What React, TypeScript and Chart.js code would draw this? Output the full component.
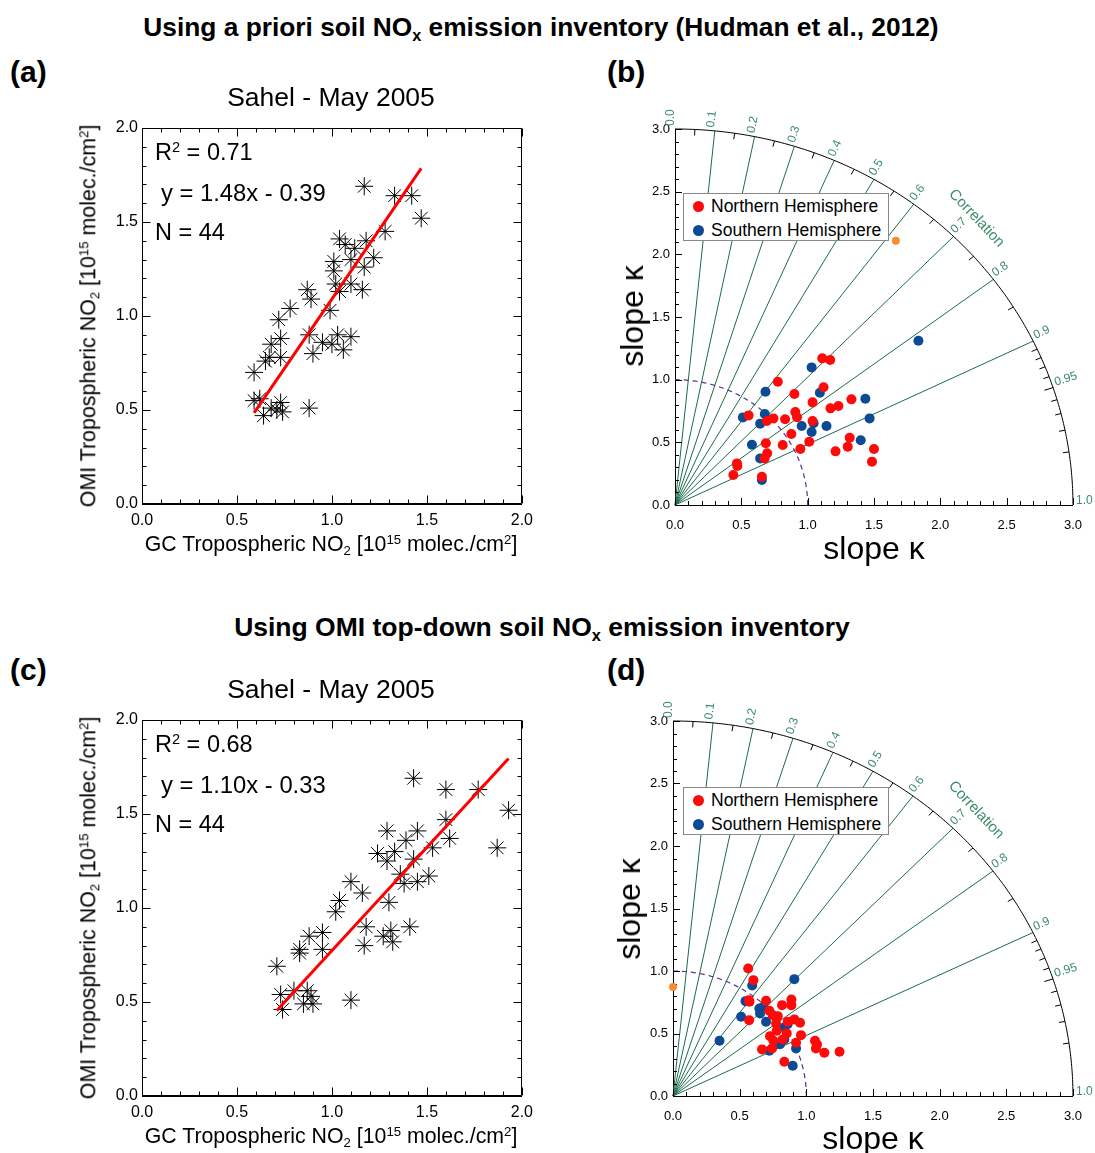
import React, { useEffect, useRef } from "react";
import { Chart, registerables } from "chart.js";
Chart.register(...registerables);

const FONT = "'Liberation Sans', Arial, Helvetica, sans-serif";

// ---------- Panel (a): a priori inventory scatter ----------
const gcA = [1.17, 1.33, 1.42, 1.47, 1.28, 1.04, 1.07, 1.12, 1.18, 1.22, 1.10, 1.01, 1.17, 1.01, 1.02, 1.10, 1.16, 1.04, 0.87, 0.89, 0.78, 0.99, 0.72, 0.73, 0.68, 0.88, 0.95, 1.00, 1.03, 1.06, 1.10, 0.90, 0.67, 0.65, 0.73, 0.59, 0.59, 0.64, 0.73, 0.71, 0.74, 0.88, 0.68, 0.62];
const omiA = [1.69, 1.64, 1.64, 1.52, 1.45, 1.41, 1.38, 1.36, 1.40, 1.31, 1.30, 1.29, 1.26, 1.24, 1.17, 1.17, 1.14, 1.13, 1.14, 1.09, 1.04, 1.03, 0.98, 0.88, 0.85, 0.90, 0.86, 0.85, 0.90, 0.82, 0.89, 0.80, 0.78, 0.76, 0.78, 0.70, 0.55, 0.47, 0.54, 0.50, 0.49, 0.51, 0.51, 0.56];
const fitAX = [0.59, 1.47];
const fitAY = [0.485, 1.785];
const statsA = { r2: "0.71", eq: "y = 1.48x - 0.39", n: "N = 44" };

// ---------- Panel (c): OMI top-down inventory scatter ----------
const gcC = [1.43, 1.60, 1.77, 1.93, 1.87, 1.60, 1.62, 1.53, 1.29, 1.39, 1.45, 1.24, 1.33, 1.29, 1.43, 1.38, 1.45, 1.51, 1.36, 1.30, 1.10, 1.16, 1.04, 1.02, 0.95, 0.88, 0.95, 0.83, 0.83, 1.18, 1.17, 1.27, 1.31, 1.32, 1.41, 0.71, 0.73, 0.80, 0.74, 0.87, 0.85, 0.90, 1.10, 0.89];
const omiC = [1.69, 1.63, 1.63, 1.52, 1.32, 1.47, 1.37, 1.32, 1.41, 1.36, 1.41, 1.29, 1.30, 1.25, 1.26, 1.13, 1.14, 1.17, 1.18, 1.03, 1.14, 1.08, 1.04, 0.98, 0.87, 0.85, 0.78, 0.78, 0.76, 0.90, 0.80, 0.85, 0.88, 0.82, 0.90, 0.69, 0.54, 0.56, 0.46, 0.56, 0.49, 0.49, 0.51, 0.53];
const fitCX = [0.71, 1.93];
const fitCY = [0.455, 1.795];
const statsC = { r2: "0.68", eq: "y = 1.10x - 0.33", n: "N = 44" };

// ---------- Panel (b): Taylor diagram, a priori ----------
const nhB: number[][] = [
  [1.11, 1.17], [1.17, 1.157], [0.775, 0.984], [1.12, 0.939], [0.90, 0.886], [1.037, 0.819], [1.33, 0.843], [1.232, 0.79],
  [1.172, 0.771], [0.907, 0.742], [0.92, 0.70], [0.555, 0.715], [0.692, 0.67], [0.742, 0.691], [0.83, 0.684], [1.037, 0.67],
  [0.877, 0.566], [0.685, 0.492], [0.812, 0.479], [1.012, 0.505], [0.945, 0.447], [0.695, 0.412], [0.675, 0.372], [1.317, 0.537],
  [1.302, 0.465], [1.21, 0.428], [1.50, 0.447], [1.485, 0.346], [0.467, 0.332], [0.47, 0.311], [0.44, 0.239], [0.655, 0.226],
];
const shB: number[][] = [
  [1.835, 1.311], [1.03, 1.098], [0.682, 0.904], [1.092, 0.896], [1.435, 0.848], [1.467, 0.691], [0.512, 0.699], [0.677, 0.726],
  [0.642, 0.649], [1.045, 0.652], [0.955, 0.63], [1.142, 0.63], [1.03, 0.582], [1.40, 0.516], [0.58, 0.481], [0.642, 0.372], [0.655, 0.199],
];
const refB: number[][] = [[1.665, 2.109]];

// ---------- Panel (d): Taylor diagram, top-down ----------
const nhD: number[][] = [
  [0.564, 1.02], [0.603, 0.927], [0.569, 0.767], [0.574, 0.754], [0.698, 0.762], [0.818, 0.727], [0.888, 0.772], [0.888, 0.727],
  [0.723, 0.682], [0.748, 0.647], [0.786, 0.639], [0.571, 0.607], [0.773, 0.581], [0.86, 0.594], [0.91, 0.613], [0.953, 0.586],
  [0.778, 0.522], [0.853, 0.501], [0.96, 0.487], [0.728, 0.479], [0.753, 0.442], [0.823, 0.453], [0.923, 0.426], [0.668, 0.373],
  [0.743, 0.381], [1.065, 0.442], [1.08, 0.413], [1.072, 0.381], [1.135, 0.346], [1.249, 0.354], [0.835, 0.274],
];
const shD: number[][] = [
  [0.91, 0.935], [0.594, 0.884], [0.544, 0.759], [0.648, 0.70], [0.678, 0.714], [0.653, 0.66], [0.511, 0.634], [0.698, 0.594],
  [0.835, 0.549], [0.86, 0.575], [0.835, 0.453], [0.803, 0.415], [0.723, 0.362], [0.923, 0.381], [0.349, 0.442], [0.898, 0.242],
];
const refD: number[][] = [[0.0, 0.873]];

// ---------- Taylor diagram grid definitions ----------
const taylorMax = 3;
const refRadius = 1;
const corrLines = [0.1, 0.2, 0.3, 0.4, 0.5, 0.6, 0.7, 0.8, 0.9];
const corrLabelVals = [0.0, 0.1, 0.2, 0.3, 0.4, 0.5, 0.6, 0.7, 0.8, 0.9, 0.95, 1.0];
const corrLabels = ["0.0", "0.1", "0.2", "0.3", "0.4", "0.5", "0.6", "0.7", "0.8", "0.9", "0.95", "1.0"];
const corrMinorTicks = [0.05, 0.15, 0.25, 0.35, 0.45, 0.55, 0.65, 0.75, 0.85, 0.91, 0.92, 0.93, 0.94, 0.96, 0.97, 0.98, 0.99];
const corrMajorTicks = [0.95];
const legendLabels = ["Northern Hemisphere", "Southern Hemisphere"];

const RED = "#ff0a0a";
const BLUE = "#0b4a94";
const ORANGE = "#f78c2e";
const GREEN_LINE = "#1c6b4a";
const GREEN_TEXT = "#3b8c68";
const PURPLE = "#5b2e96";

const fmt1 = (v: any) => Number(v).toFixed(1);

const boxTicksPlugin = {
  id: "boxTicks",
  beforeDatasetsDraw(chart: any) {
    const { ctx, chartArea: a, scales } = chart;
    const x = scales.x, y = scales.y;
    const L = Math.round(a.left) + 0.5, R = Math.round(a.right) - 0.5, T = Math.round(a.top) + 0.5, B = Math.round(a.bottom) - 0.5;
    ctx.save();
    ctx.strokeStyle = "#000";
    ctx.lineWidth = 1;
    ctx.beginPath();
    ctx.rect(L, T, R - L, B - T);
    ctx.stroke();
    ctx.beginPath();
    for (let i = 0; i <= 20; i++) {
      const v = i / 10;
      const len = i % 5 === 0 ? 8 : 4;
      const X = Math.round(x.getPixelForValue(v)) + 0.5;
      ctx.moveTo(X, B); ctx.lineTo(X, B - len);
      ctx.moveTo(X, T); ctx.lineTo(X, T + len);
      const Y = Math.round(y.getPixelForValue(v)) + 0.5;
      ctx.moveTo(L, Y); ctx.lineTo(L + len, Y);
      ctx.moveTo(R, Y); ctx.lineTo(R - len, Y);
    }
    ctx.stroke();
    ctx.restore();
  },
};

const taylorPlugin = {
  id: "taylorGrid",
  beforeDatasetsDraw(chart: any) {
    const { ctx, scales } = chart;
    const xs = scales.x, ys = scales.y;
    const px = (v: number) => xs.getPixelForValue(v);
    const py = (v: number) => ys.getPixelForValue(v);
    const ox = px(0), oy = py(0);
    const arcPt = (r: number, rad: number) => [px(rad * r), py(rad * Math.sqrt(Math.max(0, 1 - r * r)))];
    ctx.save();
    // radial correlation lines
    ctx.strokeStyle = GREEN_LINE;
    ctx.lineWidth = 1;
    for (const r of corrLines) {
      const [X, Y] = arcPt(r, taylorMax);
      ctx.beginPath(); ctx.moveTo(ox, oy); ctx.lineTo(X, Y); ctx.stroke();
    }
    // outer arc
    ctx.strokeStyle = "#000";
    ctx.beginPath();
    for (let i = 0; i <= 180; i++) {
      const t = (i / 180) * Math.PI / 2;
      const X = px(taylorMax * Math.cos(t)), Y = py(taylorMax * Math.sin(t));
      if (i === 0) ctx.moveTo(X, Y); else ctx.lineTo(X, Y);
    }
    ctx.stroke();
    // reference dashed arc
    ctx.strokeStyle = PURPLE;
    ctx.lineWidth = 1.2;
    ctx.setLineDash([5, 4]);
    ctx.beginPath();
    for (let i = 0; i <= 90; i++) {
      const t = (i / 90) * Math.PI / 2;
      const X = px(refRadius * Math.cos(t)), Y = py(refRadius * Math.sin(t));
      if (i === 0) ctx.moveTo(X, Y); else ctx.lineTo(X, Y);
    }
    ctx.stroke();
    ctx.setLineDash([]);
    ctx.lineWidth = 1;
    // arc ticks (inward)
    ctx.strokeStyle = "#000";
    const tick = (r: number, len: number) => {
      const [X, Y] = arcPt(r, taylorMax);
      const dx = ox - X, dy = oy - Y, d = Math.hypot(dx, dy);
      ctx.beginPath(); ctx.moveTo(X, Y); ctx.lineTo(X + (dx / d) * len, Y + (dy / d) * len); ctx.stroke();
    };
    corrMinorTicks.forEach((r) => tick(r, 6));
    corrMajorTicks.forEach((r) => tick(r, 9));
    // axis ticks (inward)
    ctx.beginPath();
    for (let i = 0; i <= 30; i++) {
      const v = i / 10;
      const len = i % 5 === 0 ? 7 : 4;
      const X = Math.round(px(v)) + 0.5;
      ctx.moveTo(X, oy); ctx.lineTo(X, oy - len);
      const Y = Math.round(py(v)) + 0.5;
      ctx.moveTo(ox, Y); ctx.lineTo(ox + len, Y);
    }
    ctx.stroke();
    // correlation labels
    ctx.fillStyle = GREEN_TEXT;
    ctx.font = `12px ${FONT}`;
    ctx.textAlign = "left";
    ctx.textBaseline = "alphabetic";
    corrLabelVals.forEach((r, i) => {
      const [X, Y] = arcPt(r, taylorMax);
      const phi = Math.atan2(oy - Y, X - ox);
      ctx.save();
      ctx.translate(X + Math.cos(phi) * 3, Y - Math.sin(phi) * 3);
      ctx.rotate(-phi);
      ctx.fillText(corrLabels[i], 0, -1);
      ctx.restore();
    });
    // "Correlation" label
    {
      const [X, Y] = arcPt(0.705, taylorMax);
      const phi = Math.atan2(oy - Y, X - ox);
      ctx.save();
      ctx.translate(X + Math.cos(phi) * 29, Y - Math.sin(phi) * 29);
      ctx.rotate(Math.PI / 2 - phi);
      ctx.font = `15px ${FONT}`;
      ctx.textAlign = "center";
      ctx.textBaseline = "middle";
      ctx.fillText("Correlation", 0, 0);
      ctx.restore();
    }
    ctx.restore();
  },
};

function axisCfg(min: number, max: number, isX: boolean, size: number, pad: number, fontSize: number) {
  return {
    type: "linear",
    min,
    max,
    afterFit: (s: any) => {
      if (isX) s.height = size; else s.width = size;
    },
    grid: { display: false, drawTicks: false },
    border: { display: true, color: "#000", width: 1 },
    ticks: { stepSize: 0.5, padding: pad, color: "#000", font: { size: fontSize, family: FONT }, callback: fmt1, autoSkip: false, maxRotation: 0 },
  };
}

function makeScatter(xs: number[], ys: number[], fx: number[], fy: number[], padding: any) {
  return {
    type: "scatter",
    data: {
      datasets: [
        {
          data: fx.map((x, i) => ({ x, y: fy[i] })),
          showLine: true,
          borderColor: "#ff0000",
          borderWidth: 3,
          pointRadius: 0,
          order: 0,
        },
        {
          data: xs.map((x, i) => ({ x, y: ys[i] })),
          pointStyle: "star",
          pointRadius: 9,
          borderColor: "#000",
          backgroundColor: "rgba(0,0,0,0)",
          borderWidth: 1,
          clip: false,
          order: 1,
        },
      ],
    },
    options: {
      animation: false,
      responsive: false,
      events: [],
      layout: { padding },
      plugins: { legend: { display: false }, tooltip: { enabled: false } },
      scales: { x: axisCfg(0, 2, true, 30, 7, 16), y: axisCfg(0, 2, false, 44, 4, 16) },
    },
    plugins: [boxTicksPlugin],
  };
}

function makeTaylor(nh: number[][], sh: number[][], ref: number[][], padding: any) {
  const pts = (a: number[][]) => a.map(([x, y]) => ({ x, y }));
  return {
    type: "scatter",
    data: {
      datasets: [
        { label: legendLabels[0], data: pts(nh), pointRadius: 5, backgroundColor: RED, borderColor: RED, borderWidth: 0, clip: false, order: 0 },
        { label: legendLabels[1], data: pts(sh), pointRadius: 5, backgroundColor: BLUE, borderColor: BLUE, borderWidth: 0, clip: false, order: 1 },
        { label: "reference", data: pts(ref), pointRadius: 4, backgroundColor: ORANGE, borderColor: ORANGE, borderWidth: 0, clip: false, order: 2 },
      ],
    },
    options: {
      animation: false,
      responsive: false,
      events: [],
      layout: { padding },
      plugins: { legend: { display: false }, tooltip: { enabled: false } },
      scales: { x: axisCfg(0, taylorMax, true, 30, 13, 13), y: axisCfg(0, taylorMax, false, 40, 5, 13) },
    },
    plugins: [taylorPlugin],
  };
}

function ChartBox({ left, top, width, height, make }: any) {
  const ref = useRef<HTMLCanvasElement | null>(null);
  useEffect(() => {
    const chart = new Chart(ref.current as HTMLCanvasElement, make());
    return () => chart.destroy();
  }, []);
  return <canvas ref={ref} width={width} height={height} style={{ position: "absolute", left, top, width, height }} />;
}

const Sub = ({ children }: any) => <span style={{ fontSize: "0.62em", position: "relative", top: "0.3em" }}>{children}</span>;
const Sup = ({ children }: any) => <span style={{ fontSize: "0.62em", position: "relative", top: "-0.55em" }}>{children}</span>;

function Txt({ x, y, size, bold, rotate, align = "center", color = "#000", children }: any) {
  const tx = align === "center" ? "-50%" : align === "left" ? "0%" : "-100%";
  return (
    <div
      style={{
        position: "absolute",
        left: x,
        top: y,
        transform: `translate(${tx},-50%)${rotate ? ` rotate(${rotate}deg)` : ""}`,
        whiteSpace: "nowrap",
        fontFamily: FONT,
        fontSize: size,
        fontWeight: bold ? "bold" : "normal",
        lineHeight: 1,
        color,
      }}
    >
      {children}
    </div>
  );
}

function Legend({ left, top }: any) {
  const colors = [RED, BLUE];
  return (
    <div style={{ position: "absolute", left, top, width: 206, height: 48, border: "1px solid #888", boxSizing: "border-box", background: "#fff", fontFamily: FONT, fontSize: 17.5, color: "#000" }}>
      {legendLabels.map((lab, i) => (
        <div key={lab} style={{ position: "absolute", left: 9, top: 2 + i * 24, height: 20, display: "flex", alignItems: "center", whiteSpace: "nowrap" }}>
          <span style={{ display: "inline-block", width: 11, height: 11, borderRadius: "50%", background: colors[i], marginRight: 7 }} />
          {lab}
        </div>
      ))}
    </div>
  );
}

const NO2Y = () => (
  <>OMI Tropospheric NO<Sub>2</Sub> [10<Sup>15</Sup> molec./cm<Sup>2</Sup>]</>
);
const NO2X = () => (
  <>GC Tropospheric NO<Sub>2</Sub> [10<Sup>15</Sup> molec./cm<Sup>2</Sup>]</>
);

function ScatterPanel({ dy, xs, ys, fx, fy, stats, h, padBottom }: any) {
  return (
    <>
      <ChartBox left={60} top={110 + dy} width={480} height={h} make={() => makeScatter(xs, ys, fx, fy, { left: 38, right: 18, top: 18, bottom: padBottom })} />
      <Txt x={331} y={97 + dy} size={26.5}>Sahel - May 2005</Txt>
      <Txt x={89} y={316 + dy} size={21.4} rotate={-90}><NO2Y /></Txt>
      <Txt x={331} y={545 + dy} size={21.3}><NO2X /></Txt>
      <Txt x={155} y={153 + dy} size={23.5} align="left">R<Sup>2</Sup> = {stats.r2}</Txt>
      <Txt x={161} y={193 + dy} size={23.8} align="left">{stats.eq}</Txt>
      <Txt x={155} y={233 + dy} size={23.5} align="left">{stats.n}</Txt>
    </>
  );
}

export default function App() {
  return (
    <div style={{ position: "absolute", left: 0, top: 0, width: 1095, height: 1153, background: "#fff", overflow: "hidden", fontFamily: FONT }}>
      <Txt x={541} y={27} size={26.3} bold>Using a priori soil NO<Sub>x</Sub> emission inventory (Hudman et al., 2012)</Txt>
      <Txt x={542} y={627} size={26.5} bold>Using OMI top-down soil NO<Sub>x</Sub> emission inventory</Txt>
      <Txt x={10} y={72} size={30} bold align="left">(a)</Txt>
      <Txt x={607} y={72} size={30} bold align="left">(b)</Txt>
      <Txt x={10} y={670} size={30} bold align="left">(c)</Txt>
      <Txt x={607} y={670} size={30} bold align="left">(d)</Txt>

      <ScatterPanel dy={0} xs={gcA} ys={omiA} fx={fitAX} fy={fitAY} stats={statsA} h={460} padBottom={36} />
      <ScatterPanel dy={592} xs={gcC} ys={omiC} fx={fitCX} fy={fitCY} stats={statsC} h={451} padBottom={27} />

      <ChartBox left={600} top={100} width={495} height={470} make={() => makeTaylor(nhB, shB, refB, { left: 35, right: 19, top: 29, bottom: 35 })} />
      <Legend left={683} top={193} />
      <Txt x={874} y={548} size={32} >slope κ</Txt>
      <Txt x={632} y={316} size={32} rotate={-90}>slope κ</Txt>

      <ChartBox left={600} top={692} width={495} height={461} make={() => makeTaylor(nhD, shD, refD, { left: 33, right: 21, top: 29, bottom: 27 })} />
      <Legend left={683} top={787} />
      <Txt x={873} y={1138} size={32}>slope κ</Txt>
      <Txt x={629} y={909} size={32} rotate={-90}>slope κ</Txt>
    </div>
  );
}
